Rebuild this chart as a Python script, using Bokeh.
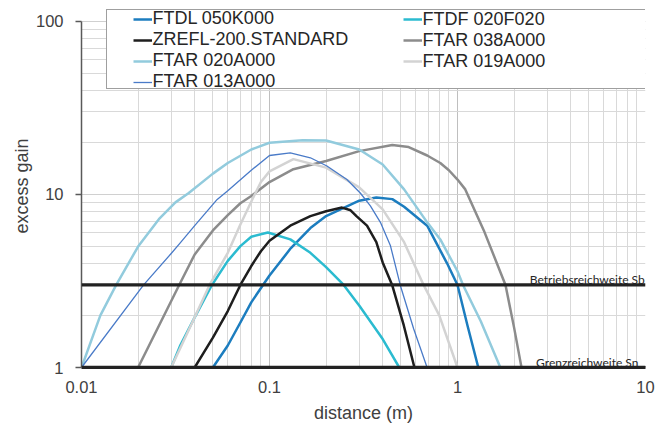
from bokeh.plotting import figure
from bokeh.models import (Range1d, FixedTicker, Span, Legend, LegendItem,
                          CustomJSTickFormatter, ColumnDataSource)
from bokeh.core.properties import value
from bokeh.embed import file_html
from bokeh.resources import INLINE

# ---------------- data ----------------
series_names = ["FTDL 050K000", "FTDF 020F020", "ZREFL-200.STANDARD",
                "FTAR 038A000", "FTAR 020A000", "FTAR 019A000", "FTAR 013A000"]

ftdl_x = [0.05, 0.06, 0.07, 0.08, 0.1, 0.13, 0.165, 0.2, 0.3, 0.37, 0.45, 0.52, 0.69, 0.88, 1.0, 1.13, 1.29]
ftdl_y = [1.0, 1.34, 1.82, 2.38, 3.4, 4.9, 6.4, 7.5, 9.2, 9.6, 9.4, 8.5, 6.6, 4.0, 3.0, 1.75, 1.0]

ftdf_x = [0.03, 0.0336, 0.04, 0.0494, 0.06, 0.07, 0.08, 0.098, 0.129, 0.165, 0.2, 0.248, 0.3, 0.4, 0.49]
ftdf_y = [1.0, 1.35, 1.95, 3.0, 4.13, 5.03, 5.7, 6.03, 5.5, 4.6, 3.8, 3.0, 2.28, 1.46, 1.0]

zrefl_x = [0.04, 0.05, 0.06, 0.07, 0.08, 0.09, 0.1, 0.129, 0.165, 0.2, 0.243, 0.27, 0.29, 0.33, 0.37, 0.4, 0.449, 0.518, 0.59]
zrefl_y = [1.0, 1.49, 2.12, 3.0, 3.86, 4.7, 5.4, 6.6, 7.5, 8.0, 8.4, 8.1, 7.5, 6.6, 5.3, 4.05, 3.0, 1.75, 1.0]

ftar038_x = [0.02, 0.0336, 0.04, 0.05, 0.06, 0.07, 0.08, 0.1, 0.134, 0.2, 0.3, 0.45, 0.55, 0.69, 0.81, 0.9, 1.0, 1.1, 1.38, 1.8, 2.0, 2.19]
ftar038_y = [1.0, 3.1, 4.5, 6.2, 7.6, 8.9, 9.8, 11.8, 14.0, 15.6, 17.8, 19.3, 18.8, 16.8, 15.2, 13.8, 12.2, 10.7, 6.2, 3.0, 1.7, 1.0]

ftar020_x = [0.01, 0.0126, 0.0153, 0.02, 0.0258, 0.0316, 0.0372, 0.05, 0.06, 0.08, 0.1, 0.15, 0.2, 0.3, 0.4, 0.52, 0.69, 0.81, 1.0, 1.07, 1.33, 1.69]
ftar020_y = [1.0, 2.0, 3.0, 5.0, 7.2, 9.0, 10.2, 13.2, 15.2, 18.2, 19.9, 20.6, 20.5, 18.2, 14.9, 10.7, 6.9, 5.5, 3.6, 3.0, 1.85, 1.0]

ftar019_x = [0.03, 0.04, 0.048, 0.06, 0.07, 0.081, 0.09, 0.1, 0.134, 0.2, 0.3, 0.4, 0.52, 0.66, 0.8, 1.0]
ftar019_y = [1.0, 1.95, 3.0, 4.6, 6.7, 9.36, 11.8, 13.6, 16.0, 14.3, 11.0, 8.2, 5.3, 3.0, 2.0, 1.0]

ftar013_x = [0.01, 0.0214, 0.03, 0.0336, 0.04, 0.0527, 0.06, 0.08, 0.1, 0.129, 0.165, 0.202, 0.258, 0.304, 0.344, 0.389, 0.44, 0.497, 0.585, 0.689]
ftar013_y = [1.0, 3.0, 4.56, 5.27, 6.6, 9.36, 10.5, 13.8, 16.8, 17.4, 16.3, 14.6, 12.2, 10.2, 8.6, 6.9, 5.05, 2.97, 1.67, 1.0]

x_tick_values = [0.01, 0.1, 1, 10]
x_tick_labels = ["0.01", "0.1", "1", "10"]
y_tick_values = [1, 10, 100]
y_tick_labels = ["1", "10", "100"]

threshold_values = [3, 1]
threshold_labels = ["Betriebsreichweite Sb", "Grenzreichweite Sn"]

# ---------------- styling ----------------
series_x = [ftdl_x, ftdf_x, zrefl_x, ftar038_x, ftar020_x, ftar019_x, ftar013_x]
series_y = [ftdl_y, ftdf_y, zrefl_y, ftar038_y, ftar020_y, ftar019_y, ftar013_y]
series_colors = ["#1C7DBF", "#2BBBD0", "#1E1E1E", "#8C8C8C", "#92CBDD", "#D3D3D3", "#4A7BC8"]
series_widths = [2.5, 2.5, 2.5, 2.5, 2.5, 2.5, 1.3]

FONT = "Liberation Sans"
TXT = "#404040"

# frame reaches above 100 so that the legend box (which pokes above the value
# axis in the reference) is not clipped; axis line and grid stop at 100
Y_TOP = 125.3

p = figure(width=665, height=425, x_axis_type="log", y_axis_type="log",
           x_range=Range1d(0.01, 10), y_range=Range1d(1, Y_TOP),
           output_backend="svg", toolbar_location=None,
           min_border_left=81, min_border_right=20, min_border_top=4, min_border_bottom=57)
p.outline_line_color = None
p.background_fill_color = "white"
p.border_fill_color = "white"

x_minor = [m * 10.0 ** e for e in (-2, -1, 0) for m in range(2, 10)]
y_minor = [m * 10.0 ** e for e in (0, 1) for m in range(2, 10)]
p.xaxis.ticker = FixedTicker(ticks=x_tick_values, minor_ticks=x_minor)
p.yaxis.ticker = FixedTicker(ticks=y_tick_values, minor_ticks=y_minor)
p.xgrid.ticker = FixedTicker(ticks=x_tick_values[1:], minor_ticks=x_minor)
p.ygrid.ticker = FixedTicker(ticks=y_tick_values, minor_ticks=y_minor)
p.yaxis.bounds = (y_tick_values[0], y_tick_values[-1])
xg = p.xgrid[0]
if "cross_bounds" in xg.properties():
    xg.cross_bounds = (y_tick_values[0], y_tick_values[-1])

fmt = "return tick.toString()"
p.xaxis.formatter = CustomJSTickFormatter(code=fmt)
p.yaxis.formatter = CustomJSTickFormatter(code=fmt)
p.xaxis.major_label_overrides = dict(zip(x_tick_values, x_tick_labels))
p.yaxis.major_label_overrides = dict(zip(y_tick_values, y_tick_labels))

p.xgrid.grid_line_color = "#BFBFBF"
p.xgrid.minor_grid_line_color = "#D9D9D9"
p.ygrid.grid_line_color = "#D0D0D0"
p.ygrid.minor_grid_line_color = "#D9D9D9"

for ax in (p.xaxis[0], p.yaxis[0]):
    ax.major_label_text_font = FONT
    ax.major_label_text_font_size = "16.5px"
    ax.major_label_text_color = TXT
    ax.axis_label_text_font = FONT
    ax.axis_label_text_font_size = "18px"
    ax.axis_label_text_font_style = "normal"
    ax.axis_label_text_color = TXT
    ax.minor_tick_out = 0
    ax.minor_tick_in = 0
    ax.major_tick_in = 0

p.yaxis.axis_label = "excess gain"
p.yaxis.axis_line_color = "#595959"
p.yaxis.axis_line_width = 1.5
p.yaxis.major_tick_line_color = "#595959"
p.yaxis.major_tick_line_width = 1.5
p.yaxis.major_tick_out = 6
p.yaxis.major_label_standoff = 12
p.yaxis.axis_label_standoff = 1

p.xaxis.axis_label = "distance (m)"
p.xaxis.axis_line_color = "#222222"
p.xaxis.axis_line_width = 3
p.xaxis.major_tick_out = 0
p.xaxis.major_label_standoff = 13
p.xaxis.axis_label_standoff = 7

renderers = []
for xs, ys, c, w in zip(series_x, series_y, series_colors, series_widths):
    r = p.line(xs, ys, line_color=c, line_width=w, line_join="round")
    renderers.append(r)

for v in threshold_values:
    p.add_layout(Span(location=v, dimension="width", line_color="#222222", line_width=3.3))

lab_src = ColumnDataSource(dict(x=[4.9] * len(threshold_values), y=threshold_values, text=threshold_labels))
p.text(x="x", y="y", text="text", source=lab_src, text_align="center",
       text_baseline="alphabetic", y_offset=-5, text_font=value("Lato"),
       text_font_size="12px", text_color="#262626")

# legend frame (box) + two columns of entries
frame_leg = Legend(items=[LegendItem(label="", renderers=[renderers[0]])],
                   location=(24.7, 278), padding=0, margin=0, spacing=0,
                   glyph_width=0, glyph_height=78, label_width=539, label_height=78,
                   label_standoff=0, border_line_color="#404040", border_line_width=1.3,
                   background_fill_color="white", background_fill_alpha=1.0)
p.add_layout(frame_leg, "center")

def column_legend(idx, loc):
    return Legend(items=[LegendItem(label=series_names[i], renderers=[renderers[i]]) for i in idx],
                  location=loc, padding=0, margin=0, spacing=-2,
                  glyph_width=19, glyph_height=18, label_height=18, label_standoff=1,
                  border_line_color=None, background_fill_alpha=0.0,
                  label_text_font=FONT, label_text_font_size="18px",
                  label_text_color="#262626")

p.add_layout(column_legend([0, 2, 4, 6], (51.5, 275)), "center")
p.add_layout(column_legend([1, 3, 5], (321.6, 295.5)), "center")

open("out.html", "w").write(file_html(p, INLINE))
